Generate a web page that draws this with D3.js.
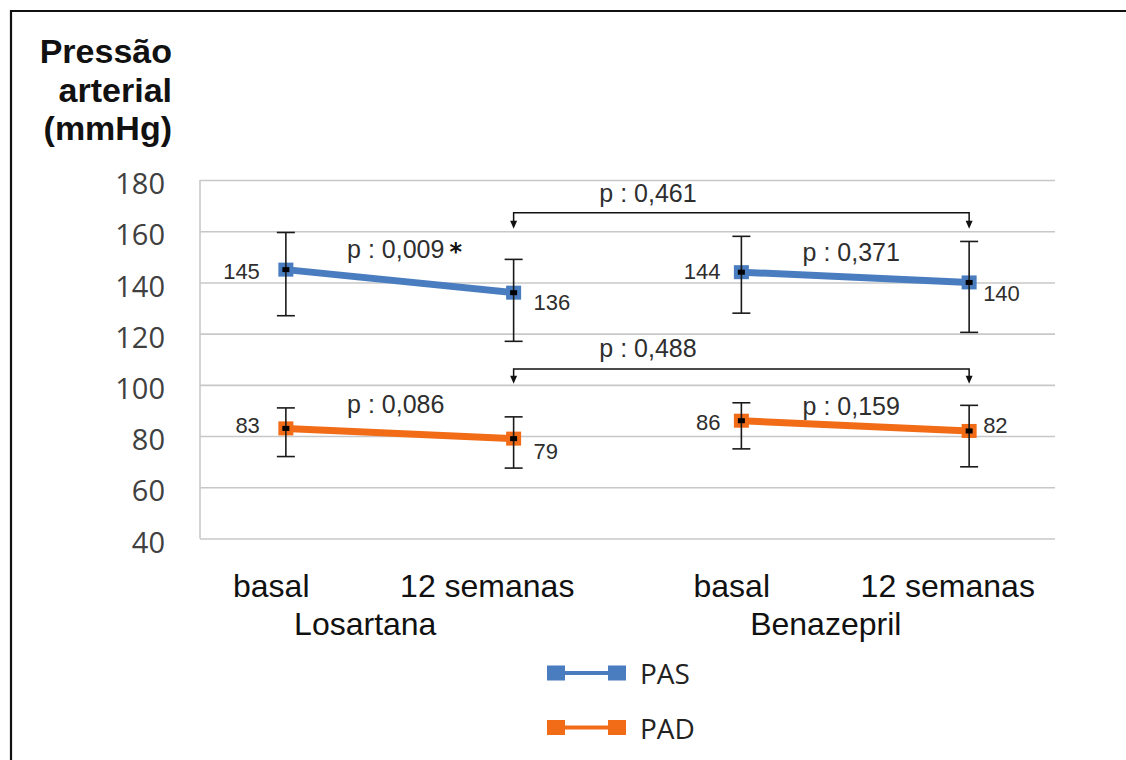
<!DOCTYPE html>
<html>
<head>
<meta charset="utf-8">
<script src="https://cdn.jsdelivr.net/npm/d3@7"></script>
<style>
  html, body { margin: 0; padding: 0; background: #fff; overflow: hidden; }
  svg { display: block; }
</style>
</head>
<body>
<svg id="chart" width="1126" height="760"></svg>
<script>
// ---- data ----
const groups = ["Losartana", "Benazepril"];
const times = ["basal", "12 semanas"];
const categories = ["Losartana|basal", "Losartana|12 semanas", "Benazepril|basal", "Benazepril|12 semanas"];

const pasValues = [145, 136, 144, 140];
const pasLow    = [127, 117, 128, 120.5];
const pasHigh   = [159.5, 149, 158, 156];

const padValues = [83, 79, 86, 82];
const padLow    = [72, 67.5, 75, 68];
const padHigh   = [91, 87.5, 93, 92];

const yTicks = [40, 60, 80, 100, 120, 140, 160, 180];
const seriesNames = ["PAS", "PAD"];

// p-values: within each drug (basal vs 12 semanas) and between drugs at 12 semanas
const withinPTexts = ["p : 0,009", "p : 0,371", "p : 0,086", "p : 0,159"];
const withinPStar  = [true, false, false, false];
const betweenPTexts = ["p : 0,461", "p : 0,488"];

// ---- layout ----
const svg = d3.select("#chart");
const plot = { left: 200, right: 1055, top: 180, bottom: 538.5 };
const colors = { PAS: "#4a7dbf", PAD: "#f26b16" };
const gridColor = "#c8c8c8";
const textColor = "#2e2e2e";

const x = d3.scalePoint().domain(categories).range([plot.left, plot.right]).padding(0.377);
const y = d3.scaleLinear().domain([40, 180]).range([plot.bottom, plot.top]);

// outer frame (open on the right and bottom)
svg.append("path")
  .attr("d", `M11,770 L11,11 L1140,11`)
  .attr("fill", "none").attr("stroke", "#111").attr("stroke-width", 2.2);

// title
const title = svg.append("text")
  .attr("text-anchor", "end")
  .attr("font-family", "'Liberation Sans', Arial, sans-serif")
  .attr("font-weight", "bold").attr("font-size", 34).attr("fill", "#111");
["Pressão", "arterial", "(mmHg)"].forEach((t, i) => {
  title.append("tspan").attr("x", 172).attr("y", 63 + i * 38.5).text(t);
});

// y axis with gridlines
const yAxis = svg.append("g")
  .attr("transform", `translate(${plot.left},0)`)
  .call(d3.axisLeft(y).tickValues(yTicks).tickSize(-(plot.right - plot.left)).tickPadding(35));
yAxis.select(".domain").remove();
yAxis.selectAll(".tick line").attr("stroke", gridColor).attr("stroke-width", 1.6);
yAxis.selectAll(".tick text")
  .attr("font-family", "'Open Sans', 'Noto Sans', sans-serif")
  .attr("font-size", 29).attr("fill", "#404040").attr("dy", "0.47em");
svg.append("line")
  .attr("x1", plot.left).attr("x2", plot.left)
  .attr("y1", y(180)).attr("y2", y(40))
  .attr("stroke", gridColor).attr("stroke-width", 1.6);

// category labels (two-level)
const gx = d3.scaleBand().domain(groups).range([149, 1070]);
const tx = d3.scalePoint().domain(times).range([-108, 108]);
const xLabels = svg.append("g")
  .attr("font-family", "'Liberation Sans', Arial, sans-serif").attr("fill", "#111");
groups.forEach(g => {
  const cx = gx(g) + gx.bandwidth() / 2;
  times.forEach(t => {
    xLabels.append("text").attr("x", cx + tx(t)).attr("y", 597)
      .attr("text-anchor", "middle").attr("font-size", 32).text(t);
  });
  xLabels.append("text").attr("x", cx - 14).attr("y", 635)
    .attr("text-anchor", "middle").attr("font-size", 32).text(g);
});

// series
const series = [
  { name: "PAS", values: pasValues, low: pasLow, high: pasHigh },
  { name: "PAD", values: padValues, low: padLow, high: padHigh }
];
const segments = [[0, 1], [2, 3]];

// value-label placement (offset from the point, in px)
const labelDx = [-26, 20, -21, 14];
const labelDy = { PAS: [9, 17, 7, 19], PAD: [5, 20, 9, 2] };

series.forEach(s => {
  const g = svg.append("g");
  const line = d3.line().x(i => x(categories[i])).y(i => y(s.values[i]));
  segments.forEach(seg => {
    g.append("path").attr("d", line(seg))
      .attr("fill", "none").attr("stroke", colors[s.name]).attr("stroke-width", 7);
  });
  // square markers
  g.selectAll("rect.m").data(s.values).join("rect")
    .attr("x", (v, i) => x(categories[i]) - 7.5).attr("y", v => y(v) - 7)
    .attr("width", 15).attr("height", 14).attr("fill", colors[s.name]);
  // error bars
  s.values.forEach((v, i) => {
    const cx = x(categories[i]);
    const eb = g.append("g").attr("stroke", "#1a1a1a").attr("stroke-width", 1.6);
    eb.append("line").attr("x1", cx).attr("x2", cx).attr("y1", y(s.high[i])).attr("y2", y(s.low[i]));
    eb.append("line").attr("x1", cx - 9).attr("x2", cx + 9).attr("y1", y(s.high[i])).attr("y2", y(s.high[i]));
    eb.append("line").attr("x1", cx - 9).attr("x2", cx + 9).attr("y1", y(s.low[i])).attr("y2", y(s.low[i]));
    g.append("rect").attr("x", cx - 3.5).attr("y", y(v) - 2.5).attr("width", 7).attr("height", 5).attr("fill", "#000");
  });
  // value labels
  s.values.forEach((v, i) => {
    g.append("text")
      .attr("x", x(categories[i]) + labelDx[i])
      .attr("y", y(v) + labelDy[s.name][i])
      .attr("text-anchor", labelDx[i] < 0 ? "end" : "start")
      .attr("font-family", "'Liberation Sans', Arial, sans-serif")
      .attr("font-size", 22).attr("fill", textColor).text(v);
  });
});

// within-drug p-values
const withinPairs = [[0, 1], [2, 3], [0, 1], [2, 3]];
const withinLevels = [149.5, 148.5, 89, 88.2];
withinPTexts.forEach((t, k) => {
  const [a, b] = withinPairs[k];
  const cx = (x(categories[a]) + x(categories[b])) / 2;
  const txt = svg.append("text")
    .attr("x", cx - 4).attr("y", y(withinLevels[k]))
    .attr("text-anchor", "middle")
    .attr("font-family", "'Liberation Sans', Arial, sans-serif")
    .attr("font-size", 25).attr("fill", textColor).text(t);
  if (withinPStar[k]) {
    const bb = txt.node().getBBox();
    svg.append("text").attr("x", bb.x + bb.width + 5).attr("y", y(withinLevels[k]) + 2)
      .attr("font-family", "'DejaVu Sans', sans-serif").attr("font-weight", "bold")
      .attr("font-size", 24).attr("fill", "#111").text("*");
  }
});

// between-drug comparisons at 12 semanas (brackets with arrows)
const bracketLevels = [167.2, 106.2];
const bracketTips = [161, 100.4];
const bracketTextLevels = [171.5, 111];
const from = x(categories[1]), to = x(categories[3]);
betweenPTexts.forEach((t, k) => {
  const g = svg.append("g");
  const yl = y(bracketLevels[k]), yt = y(bracketTips[k]);
  g.append("path")
    .attr("d", `M${from},${yt - 7} L${from},${yl} L${to},${yl} L${to},${yt - 7}`)
    .attr("fill", "none").attr("stroke", "#111").attr("stroke-width", 1.5);
  [from, to].forEach(px => {
    g.append("path").attr("d", `M${px - 3.5},${yt - 8} L${px + 3.5},${yt - 8} L${px},${yt} Z`).attr("fill", "#111");
  });
  g.append("text")
    .attr("x", d3.interpolateNumber(from, to)(0.295)).attr("y", y(bracketTextLevels[k]))
    .attr("text-anchor", "middle")
    .attr("font-family", "'Liberation Sans', Arial, sans-serif")
    .attr("font-size", 25).attr("fill", textColor).text(t);
});

// legend
const legend = svg.append("g");
seriesNames.forEach((n, i) => {
  const ly = 673 + i * 54.5;
  const lg = legend.append("g");
  lg.append("line").attr("x1", 556).attr("x2", 617).attr("y1", ly).attr("y2", ly)
    .attr("stroke", colors[n]).attr("stroke-width", 4);
  [556, 617].forEach(cx => {
    lg.append("rect").attr("x", cx - 9).attr("y", ly - 7.5).attr("width", 18).attr("height", 15).attr("fill", colors[n]);
  });
  lg.append("text").attr("x", 640).attr("y", ly + 11)
    .attr("font-family", "'Open Sans', 'Noto Sans', sans-serif")
    .attr("font-size", 28).attr("fill", "#222").text(n);
});
</script>
</body>
</html>
